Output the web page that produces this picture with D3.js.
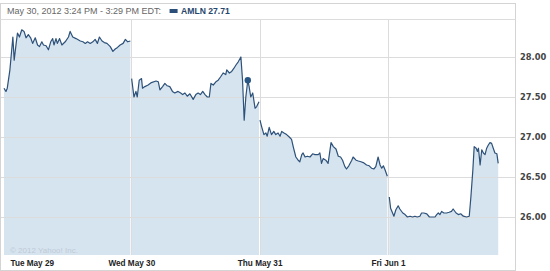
<!DOCTYPE html>
<html>
<head>
<meta charset="utf-8">
<script src="https://cdn.jsdelivr.net/npm/d3@7"></script>
<style>
  html, body { margin: 0; padding: 0; background: #fff; }
  svg { display: block; }
</style>
</head>
<body>
<svg id="chart" width="550" height="271"></svg>
<script>
// ---------- DATA ----------
const dayLabels = ["Tue May 29", "Wed May 30", "Thu May 31", "Fri Jun 1"];
const yTicks = [26.00, 26.50, 27.00, 27.50, 28.00];
const sessionMinutes = 390; // 9:30 AM - 4:00 PM

// [minutes after 9:30 AM, price]
const tue = [[3,27.61],[9,27.57],[13,27.61],[21,27.84],[30,28.25],[34,27.96],[40,28.17],[44,28.30],[50,28.25],[57,28.34],[64,28.32],[70,28.24],[77,28.28],[84,28.24],[90,28.17],[98,28.24],[105,28.15],[111,28.13],[118,28.19],[123,28.15],[131,28.14],[138,28.09],[145,28.19],[151,28.23],[155,28.15],[161,28.23],[165,28.17],[172,28.23],[179,28.15],[189,28.19],[199,28.25],[204,28.32],[212,28.25],[222,28.23],[235,28.20],[243,28.19],[250,28.17],[257,28.19],[265,28.17],[273,28.19],[280,28.22],[287,28.17],[293,28.25],[301,28.20],[308,28.18],[316,28.17],[326,28.13],[334,28.07],[341,28.10],[348,28.12],[356,28.15],[365,28.17],[372,28.22],[379,28.19],[387,28.20]];
const wed = [[1,27.73],[8,27.50],[14,27.57],[18,27.50],[24,27.71],[31,27.73],[34,27.61],[41,27.63],[51,27.65],[61,27.68],[75,27.70],[82,27.69],[87,27.59],[95,27.63],[102,27.67],[109,27.64],[117,27.63],[125,27.57],[132,27.55],[142,27.57],[150,27.55],[156,27.53],[163,27.55],[170,27.51],[178,27.54],[188,27.47],[196,27.53],[203,27.55],[210,27.53],[217,27.57],[224,27.53],[231,27.50],[237,27.50],[242,27.67],[249,27.65],[257,27.69],[264,27.71],[271,27.75],[279,27.80],[287,27.78],[290,27.84],[298,27.80],[305,27.82],[312,27.86],[318,27.90],[325,27.94],[333,28.00],[338,27.71],[343,27.21],[348,27.50],[354,27.71],[358,27.63],[363,27.50],[369,27.55],[376,27.36],[381,27.38],[388,27.44]];
const thu = [[1,27.21],[6,27.13],[13,27.03],[19,27.05],[23,27.01],[29,27.12],[36,27.03],[43,27.07],[49,27.03],[56,27.05],[62,27.01],[67,27.07],[74,27.05],[82,27.03],[90,27.00],[97,26.97],[102,26.88],[110,26.75],[117,26.71],[122,26.69],[128,26.78],[132,26.80],[138,26.75],[145,26.76],[153,26.75],[161,26.79],[168,26.78],[178,26.78],[183,26.80],[188,26.67],[193,26.73],[201,26.71],[208,26.67],[217,26.93],[224,26.88],[232,26.85],[239,26.76],[246,26.75],[252,26.71],[259,26.63],[264,26.60],[271,26.64],[280,26.71],[284,26.75],[293,26.71],[300,26.70],[308,26.69],[315,26.68],[325,26.65],[333,26.64],[340,26.61],[347,26.60],[353,26.63],[360,26.75],[366,26.65],[371,26.61],[376,26.64],[381,26.59],[388,26.51]];
const fri = [[4,26.25],[8,26.11],[14,26.05],[18,26.01],[24,26.09],[31,26.14],[36,26.10],[45,26.05],[52,26.03],[59,26.00],[67,26.01],[75,26.00],[82,26.01],[89,26.00],[97,26.01],[102,26.05],[109,26.05],[118,26.04],[126,26.00],[136,26.00],[143,26.00],[148,26.03],[153,26.05],[158,26.03],[163,26.07],[170,26.05],[178,26.05],[186,26.06],[193,26.07],[198,26.10],[207,26.05],[214,26.03],[221,26.04],[229,26.01],[239,26.00],[247,26.01],[252,26.25],[258,26.59],[262,26.88],[268,26.86],[272,26.82],[275,26.86],[280,26.65],[285,26.84],[290,26.80],[295,26.78],[300,26.86],[305,26.90],[310,26.93],[315,26.92],[320,26.86],[325,26.80],[331,26.79],[335,26.67]];
const days = [tue, wed, thu, fri];

const hover = { day: 1, minute: 354, price: 27.71 };
const headerText = "May 30, 2012 3:24 PM - 3:29 PM EDT:";
const symbol = "AMLN";
const copyright = "\u00a9 2012 Yahoo! Inc.";

// ---------- LAYOUT ----------
const svg = d3.select("#chart");
const frame = { left: 0.5, top: 3.5, right: 515.5, bottom: 270.5, header: 19.5 };
const plot = { left: 3, right: 516.3, top: 20, bottom: 255 };

const x = d3.scaleLinear()
  .domain([0, dayLabels.length * sessionMinutes])
  .range([plot.left, plot.right]);
const y = d3.scaleLinear()
  .domain([25.525, 28.4625])
  .range([plot.bottom, plot.top]);

const px = (d, i) => x(i * sessionMinutes + d[0]);

const lineCol = "#2d5179";
const fillCol = "#d6e4f0";
const gridCol = "#dcdcdc";

// area fill (per day)
const area = d3.area().y0(plot.bottom).y1(d => y(d[1]));
const line = d3.line().y(d => y(d[1]));

days.forEach((data, i) => {
  area.x(d => px(d, i));
  svg.append("path").attr("d", area(data)).attr("fill", fillCol);
});

// horizontal gridlines
svg.append("g").selectAll("line").data(yTicks).join("line")
  .attr("x1", frame.left).attr("x2", frame.right)
  .attr("y1", d => Math.round(y(d)) + 0.5).attr("y2", d => Math.round(y(d)) + 0.5)
  .attr("stroke", gridCol).attr("stroke-width", 1);

// vertical day gridlines
svg.append("g").selectAll("line").data(dayLabels.slice(1)).join("line")
  .attr("x1", (d, i) => Math.round(x((i + 1) * sessionMinutes)) + 0.5)
  .attr("x2", (d, i) => Math.round(x((i + 1) * sessionMinutes)) + 0.5)
  .attr("y1", frame.header).attr("y2", plot.bottom)
  .attr("stroke", gridCol).attr("stroke-width", 1);

// price lines
days.forEach((data, i) => {
  line.x(d => px(d, i));
  svg.append("path").attr("d", line(data))
    .attr("fill", "none").attr("stroke", lineCol)
    .attr("stroke-width", 1.2).attr("stroke-linejoin", "round");
});

// hover dot
svg.append("circle")
  .attr("cx", x(hover.day * sessionMinutes + hover.minute))
  .attr("cy", y(hover.price))
  .attr("r", 3.2).attr("fill", "#2a5683");

// copyright
svg.append("text").attr("x", 10).attr("y", 252.5)
  .attr("font-family", "'Liberation Sans', Arial, sans-serif")
  .attr("font-size", 8).attr("fill", "#bfcad5").text(copyright);

// frame
svg.append("rect")
  .attr("x", frame.left).attr("y", frame.top)
  .attr("width", frame.right - frame.left).attr("height", frame.bottom - frame.top)
  .attr("fill", "none").attr("stroke", "#d4d4d4");
svg.append("line")
  .attr("x1", frame.left).attr("x2", frame.right)
  .attr("y1", frame.header).attr("y2", frame.header)
  .attr("stroke", "#dcdcdc");

// header
const ht = svg.append("text").attr("x", 7).attr("y", 14)
  .attr("font-family", "'Liberation Sans', Arial, sans-serif")
  .attr("font-size", 9).attr("fill", "#666").text(headerText);
const hw = ht.node().getComputedTextLength();
svg.append("rect").attr("x", 7 + hw + 8.5).attr("y", 9).attr("width", 8).attr("height", 4)
  .attr("fill", "#2b4f78");
svg.append("text").attr("x", 7 + hw + 20).attr("y", 14)
  .attr("font-family", "'Liberation Sans', Arial, sans-serif")
  .attr("font-size", 8.6).attr("font-weight", "bold").attr("fill", "#26466d")
  .text(symbol + " " + d3.format(".2f")(hover.price));

// y-axis labels (right)
const yAxis = d3.axisRight(y).tickValues(yTicks).tickFormat(d3.format(".2f")).tickSize(0).tickPadding(0);
const ya = svg.append("g").attr("transform", `translate(${frame.right + 4.5},0)`).call(yAxis);
ya.select(".domain").remove();
ya.selectAll("text")
  .attr("font-family", "'DejaVu Sans', Verdana, sans-serif")
  .attr("font-size", 8.3).attr("font-weight", "bold").attr("fill", "#444");

// x-axis day labels
const xAxis = d3.axisBottom(x)
  .tickValues(dayLabels.map((d, i) => i * sessionMinutes))
  .tickFormat((d, i) => dayLabels[i]).tickSize(0).tickPadding(0);
const xa = svg.append("g").attr("transform", `translate(0,${plot.bottom + 5.5})`).call(xAxis);
xa.select(".domain").remove();
xa.selectAll("text")
  .attr("font-family", "'Liberation Sans', Arial, sans-serif")
  .attr("font-size", 8.2).attr("font-weight", "bold").attr("fill", "#222");
xa.selectAll(".tick").filter((d, i) => i === 0).select("text")
  .attr("text-anchor", "start").attr("x", 7);
</script>
</body>
</html>
